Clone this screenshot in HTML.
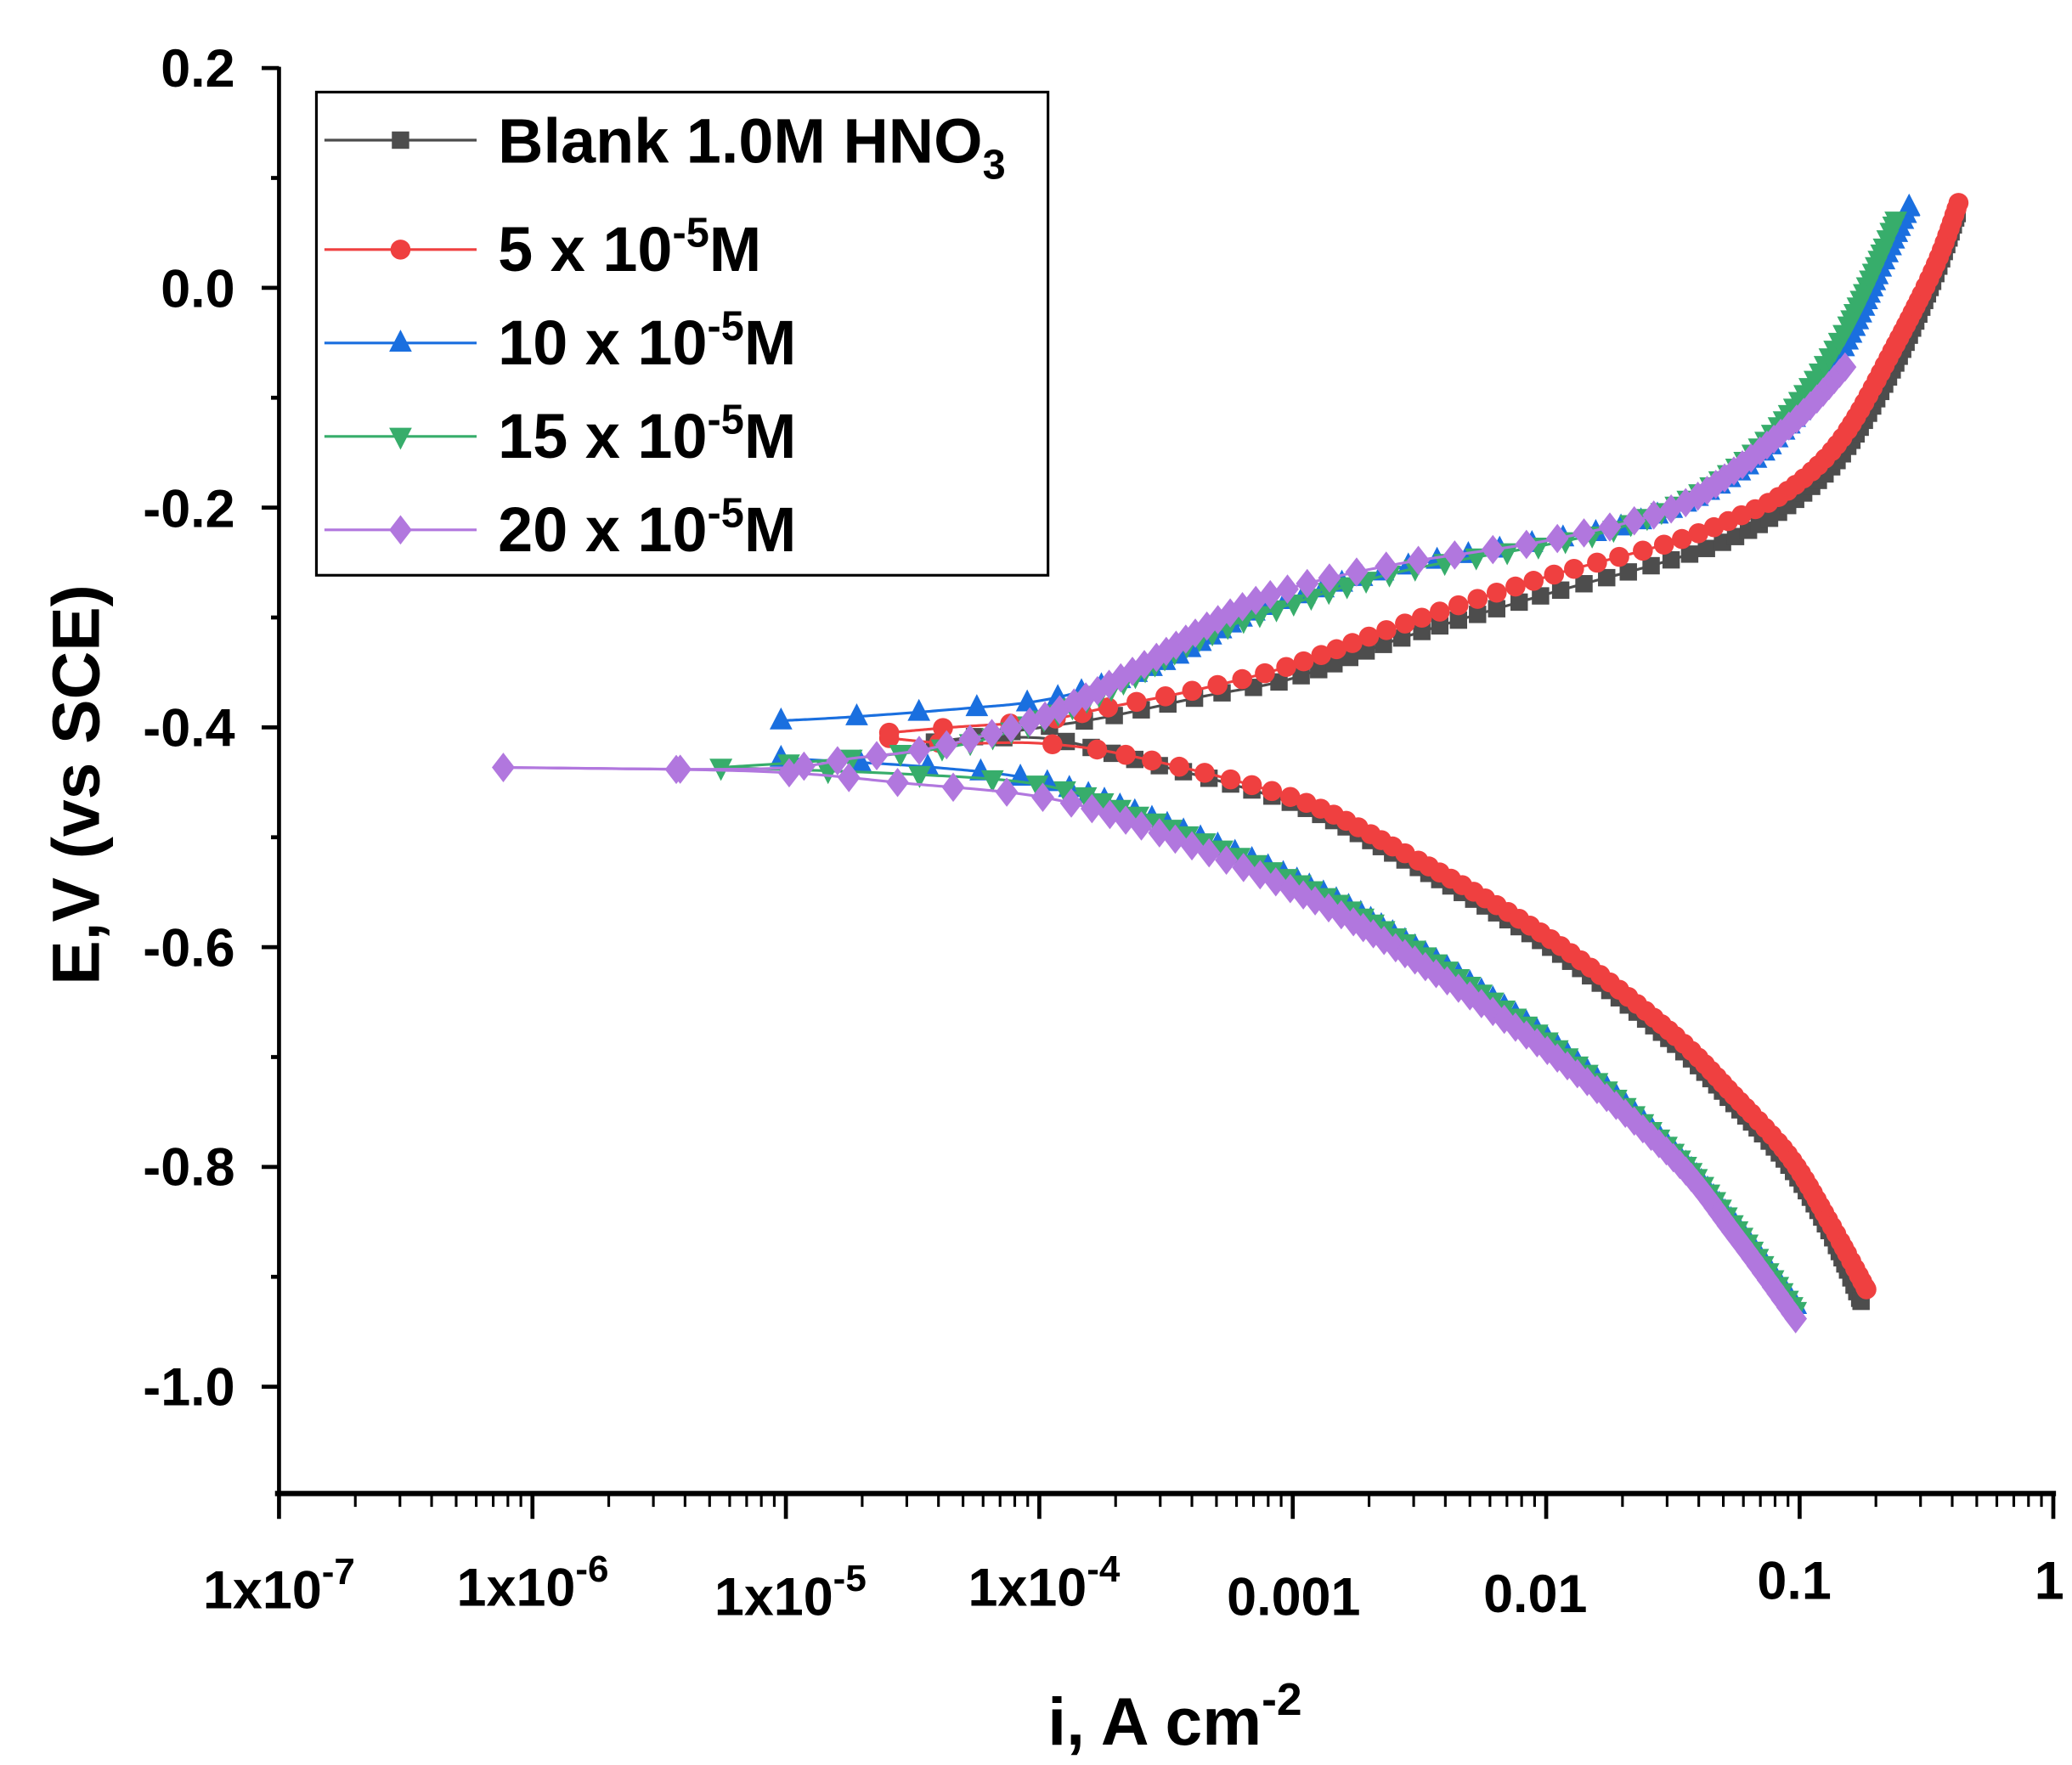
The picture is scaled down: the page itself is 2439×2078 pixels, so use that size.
<!DOCTYPE html>
<html><head><meta charset="utf-8"><style>
html,body{margin:0;padding:0;background:#fff;}
svg{display:block;}
text{font-family:"Liberation Sans",Arial,sans-serif;font-weight:bold;fill:#000;}
</style></head><body>
<svg id="s" width="2439" height="2078" viewBox="0 0 1552 1322.4" preserveAspectRatio="none" xmlns="http://www.w3.org/2000/svg">
<rect width="1552" height="1323" fill="#fff"/>
<g id="curves"></g>
<g id="axes" stroke="#000" fill="none">
<line x1="209" y1="50" x2="209" y2="1121" stroke-width="3"/>
<line x1="206" y1="1119" x2="1540" y2="1119" stroke-width="4"/>
</g>
<g id="ticks" stroke="#000" stroke-width="3"></g>
<g font-size="40">
<text x="176" y="65" text-anchor="end">0.2</text>
<text x="176" y="230" text-anchor="end">0.0</text>
<text x="176" y="395" text-anchor="end">-0.2</text>
<text x="176" y="559" text-anchor="end">-0.4</text>
<text x="176" y="724" text-anchor="end">-0.6</text>
<text x="176" y="888" text-anchor="end">-0.8</text>
<text x="176" y="1053" text-anchor="end">-1.0</text>
</g>
<g font-size="40" text-anchor="middle">
<text x="209" y="1205">1x10<tspan font-size="28" dy="-18">-7</tspan></text>
<text x="399" y="1203">1x10<tspan font-size="28" dy="-18">-6</tspan></text>
<text x="592" y="1210">1x10<tspan font-size="28" dy="-18">-5</tspan></text>
<text x="782" y="1203">1x10<tspan font-size="28" dy="-18">-4</tspan></text>
<text x="969" y="1210">0.001</text>
<text x="1150" y="1208">0.01</text>
<text x="1344" y="1198">0.1</text>
<text x="1535" y="1198">1</text>
</g>
<text x="880" y="1307" font-size="50" text-anchor="middle">i, A cm<tspan font-size="34" dy="-22">-2</tspan></text>
<text transform="translate(74,588) rotate(-90)" font-size="50" text-anchor="middle">E,V (vs SCE)</text>
<rect x="237" y="69" width="548" height="362" fill="#fff" stroke="#000" stroke-width="2"/>
<g id="leg"></g>
<g font-size="47">
<text x="373" y="122">Blank 1.0M HNO<tspan font-size="31" dy="12">3</tspan></text>
<text x="373" y="203">5 x 10<tspan font-size="31" dy="-18">-5</tspan><tspan dy="18">M</tspan></text>
<text x="373" y="273">10 x 10<tspan font-size="31" dy="-18">-5</tspan><tspan dy="18">M</tspan></text>
<text x="373" y="343">15 x 10<tspan font-size="31" dy="-18">-5</tspan><tspan dy="18">M</tspan></text>
<text x="373" y="413">20 x 10<tspan font-size="31" dy="-18">-5</tspan><tspan dy="18">M</tspan></text>
</g>
</svg>
<script>
var NS="http://www.w3.org/2000/svg";
function el(t,a,p){var e=document.createElementNS(NS,t);for(var k in a)e.setAttribute(k,a[k]);p.appendChild(e);return e;}
var tk=document.getElementById("ticks");
for(var i=0;i<13;i++){var y=51+i*82.33;el("line",{x1:i%2?203:196,y1:y,x2:209,y2:y},tk);}
for(var d=0;d<7;d++){var x0=209+d*189.83;el("line",{x1:x0,y1:1119,x2:x0,y2:1138},tk);
for(var m=2;m<10;m++){var x=x0+Math.log10(m)*189.83;el("line",{x1:x,y1:1119,x2:x,y2:1129,"stroke-width":2},tk);}}
el("line",{x1:1538,y1:1119,x2:1538,y2:1138},tk);
function cr(pts,n){var out=[];for(var i=0;i<pts.length-1;i++){var p0=pts[Math.max(i-1,0)],p1=pts[i],p2=pts[i+1],p3=pts[Math.min(i+2,pts.length-1)];
for(var k=0;k<n;k++){var t=k/n,t2=t*t,t3=t2*t;var f=function(a,b,c,d){return 0.5*(2*b+(-a+c)*t+(2*a-5*b+4*c-d)*t2+(-a+3*b-3*c+d)*t3)};out.push([f(p0[0],p1[0],p2[0],p3[0]),f(p0[1],p1[1],p2[1],p3[1])]);}}
out.push(pts[pts.length-1]);return out;}
function marker(type,x,y,c,g){
if(type=="sq")el("rect",{x:x-6.5,y:y-6.5,width:13,height:13,fill:c},g);
else if(type=="ci")el("circle",{cx:x,cy:y,r:7.5,fill:c},g);
else if(type=="up")el("polygon",{points:(x)+","+(y-10)+" "+(x-8.5)+","+(y+6.5)+" "+(x+8.5)+","+(y+6.5),fill:c},g);
else if(type=="dn")el("polygon",{points:(x)+","+(y+10)+" "+(x-8.5)+","+(y-6.5)+" "+(x+8.5)+","+(y-6.5),fill:c},g);
else el("polygon",{points:x+","+(y-11)+" "+(x-8.5)+","+y+" "+x+","+(y+11)+" "+(x+8.5)+","+y,fill:c},g);}
function series(br,type,c){var g=el("g",{},document.getElementById("curves"));
br.forEach(function(b){var p=cr(b,40);el("polyline",{points:p.map(function(q){return q.join(",")}).join(" "),fill:"none",stroke:c,"stroke-width":2},g);
var acc=0;marker(type,p[0][0],p[0][1],c,g);for(var i=1;i<p.length;i++){acc+=Math.abs(p[i][1]-p[i-1][1])+0.025*Math.abs(p[i][0]-p[i-1][0]);if(acc>=4.5){acc=0;marker(type,p[i][0],p[i][1],c,g);}}
marker(type,p[p.length-1][0],p[p.length-1][1],c,g);});}
series([[[700,556],[780,545],[830,537],[900,522],[969,508],[1050,478],[1159,445],[1250,420],[1300,402],[1340,378],[1380,340],[1420,272],[1450,205],[1466,160]],
[[700,556],[780,553],[850,569],[969,602],[1050,643],[1159,708],[1250,778],[1300,828],[1340,873],[1370,922],[1394,975]]],"sq","#4d4d4d");
series([[[666,549],[712,545],[780,540],[830,530],[900,516],[969,498],[1050,468],[1159,432],[1250,407],[1300,388],[1340,367],[1380,328],[1420,258],[1450,198],[1467,152]],
[[666,553],[712,557],[780,557],[850,567],[969,598],[1050,638],[1159,702],[1250,772],[1300,822],[1340,866],[1370,915],[1398,966]]],"ci","#ef4040");
series([[[585,540],[640,537],[720,531],[779,525],[830,512],[880,492],[930,463],[969,448],[1050,425],[1159,405],[1220,393],[1280,368],[1330,330],[1380,262],[1410,198],[1430,155]],
[[585,568],[700,575],[779,585],[850,608],[969,658],[1050,703],[1159,778],[1250,858],[1300,918],[1345,978]]],"up","#1a6fdf");
series([[[540,575],[640,568],[720,558],[779,540],[840,512],[900,478],[969,452],[1050,428],[1159,408],[1220,393],[1280,365],[1330,322],[1380,252],[1420,165]],
[[540,575],[680,580],[779,588],[850,610],[969,660],[1050,705],[1159,780],[1250,860],[1300,920],[1345,982]]],"dn","#37ad6b");
series([[[377,575],[570,576],[640,568],[700,560],[779,538],[850,502],[920,460],[969,440],[1050,422],[1159,405],[1250,382],[1300,352],[1350,310],[1382,275]],
[[377,575],[570,578],[680,587],[779,597],[850,617],[969,667],[1050,713],[1159,787],[1250,864],[1300,926],[1345,988]]],"di","#b177de");
var lg=document.getElementById("leg");
[["sq","#4d4d4d",105],["ci","#ef4040",187],["up","#1a6fdf",257],["dn","#37ad6b",327],["di","#b177de",397]].forEach(function(a){
el("line",{x1:243,y1:a[2],x2:357,y2:a[2],stroke:a[1],"stroke-width":2},lg);marker(a[0],300,a[2],a[1],lg);});
</script>
</body></html>
